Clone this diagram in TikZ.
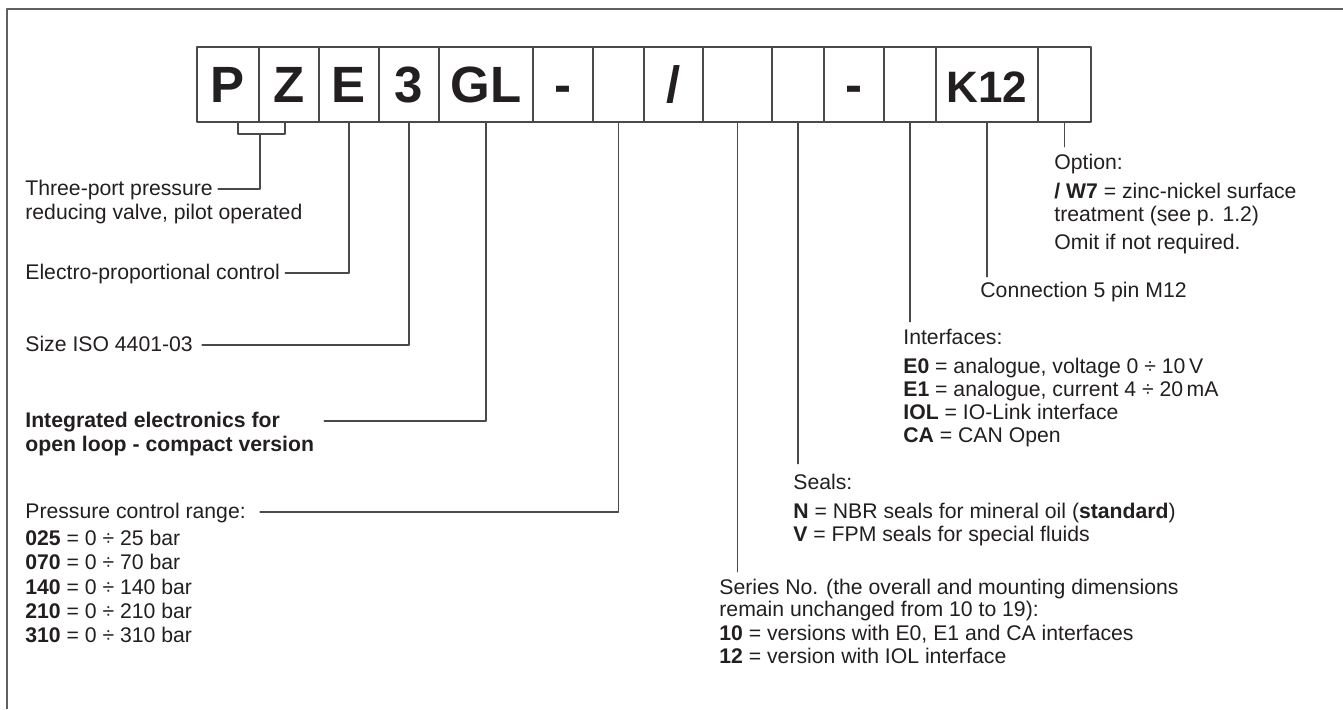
\documentclass[tikz,border=0pt]{standalone}
\usepackage{fontspec}
\setmainfont{Liberation Sans}
\definecolor{textdark}{HTML}{231F20}
\definecolor{linegray}{HTML}{4A4A4A}
\definecolor{framegray}{HTML}{606060}

\tikzset{
  cell/.style={draw=linegray, line width=0.7pt, minimum height=37.5pt, inner sep=0pt,
    text=textdark, font=\fontsize{25.5}{28}\selectfont\bfseries, text height=18.3pt, text depth=0pt},
  txt/.style={anchor=west, inner sep=0pt, text=textdark, font=\fontsize{10.6}{11.5}\selectfont,
    text height=7.6pt, text depth=1.3pt},
  boldtxt/.style={txt, font=\fontsize{10.6}{11.5}\selectfont\bfseries},
  lead/.style={draw=linegray, line width=0.7pt},
}

\begin{document}
\begin{tikzpicture}[x=0.5pt, y=-0.5pt, line cap=round, line join=round]
  \useasboundingbox (0,0) rectangle (1343,709);
  \draw[framegray, line width=1pt, line cap=butt] (1343,9) -- (7,9) -- (7,709);

  % code boxes
  \foreach \name/\cx/\w/\txt in {P/228/62/P, Z/289/60/Z, E/349/60/E, three/409/60/3,
      GL/486/94/GL, dasha/563/60/-, range/618.5/51/, slash/673.5/59/{/}, series/737.5/69/,
      seals/798/52/, dashb/854/60/-, iface/910/52/, conn/987/102/{\fontsize{22}{24}\selectfont K12},
      opt/1064.5/53/}
    \node[cell, minimum width=\w*0.5pt] (\name) at (\cx,84.5) {\txt};

  % left notes
  \node[txt] (threeport) at (25,189) {Three-port pressure};
  \node[txt] (threeportb) at (25,213) {reducing valve, pilot operated};
  \node[txt] (electro) at (25,273) {Electro-proportional control};
  \node[txt] (size) at (25,345) {Size ISO 4401-03};
  \node[boldtxt] (integ) at (25,421) {Integrated electronics for};
  \node[boldtxt] (integb) at (25,445) {open loop - compact version};
  \node[txt] (pressure) at (25,512) {Pressure control range:};
  \foreach \y/\code/\val in {539/025/25, 563/070/70, 588/140/140, 612/210/210, 636/310/310}
    \node[txt] (rng\code) at (25,\y) {\textbf{\code} = 0 ÷ \val{} bar};

  % right notes
  \node[txt] (optnote) at (1054,163) {Option:};
  \node[txt] (optw) at (1054,192) {\textbf{/ W7} = zinc-nickel surface};
  \node[txt] (optt) at (1054,215) {treatment (see p. 1.2)};
  \node[txt] (opto) at (1054,243) {Omit if not required.};
  \node[txt] (connnote) at (980,291) {Connection 5 pin M12};
  \node[txt] (ifacenote) at (903,338) {Interfaces:};
  \node[txt] (ifea) at (903,367) {\textbf{E0} = analogue, voltage 0 ÷ 10\,V};
  \node[txt] (ifeb) at (903,390) {\textbf{E1} = analogue, current 4 ÷ 20\,mA};
  \node[txt] (ifiol) at (903,413) {\textbf{IOL} = IO-Link interface};
  \node[txt] (ifca) at (903,436) {\textbf{CA} = CAN Open};
  \node[txt] (sealsnote) at (793,483) {Seals:};
  \node[txt] (sealn) at (793,512) {\textbf{N} = NBR seals for mineral oil (\textbf{standard})};
  \node[txt] (sealv) at (793,535) {\textbf{V} = FPM seals for special fluids};
  \node[txt] (seriesnote) at (719,588) {Series No. (the overall and mounting dimensions};
  \node[txt] (seriesb) at (719,610) {remain unchanged from 10 to 19):};
  \node[txt] (serten) at (719,634) {\textbf{10} = versions with E0, E1 and CA interfaces};
  \node[txt] (sertw) at (719,657) {\textbf{12} = version with IOL interface};

  % leaders
  \coordinate (brk) at (260,134);
  \draw[lead] ([xshift=5pt]P.south) |- (brk) -| ([xshift=-2pt]Z.south);
  \draw[lead, shorten <=2.5pt] (threeport.east) -| (brk);
  \draw[lead, shorten <=2.5pt] (electro.east) -| (E.south);
  \draw[lead, shorten <=4.5pt] (size.east) -| (three.south);
  \draw[lead, shorten <=22pt] (integ.east) -| (GL.south);
  \draw[lead, shorten <=7pt] (pressure.east) -| (range.south);
  \draw[lead, shorten >=3.5pt] (series.south) -- (series.south |- seriesnote.north);
  \draw[lead, shorten >=5pt] (seals.south) -- (seals.south |- sealsnote.north);
  \draw[lead, shorten >=3.5pt] (iface.south) -- (iface.south |- ifacenote.north);
  \draw[lead, shorten >=2.5pt] (conn.south) -- (conn.south |- connnote.north);
  \draw[lead, shorten >=3.5pt] (opt.south) -- (opt.south |- optnote.north);
\end{tikzpicture}
\end{document}
